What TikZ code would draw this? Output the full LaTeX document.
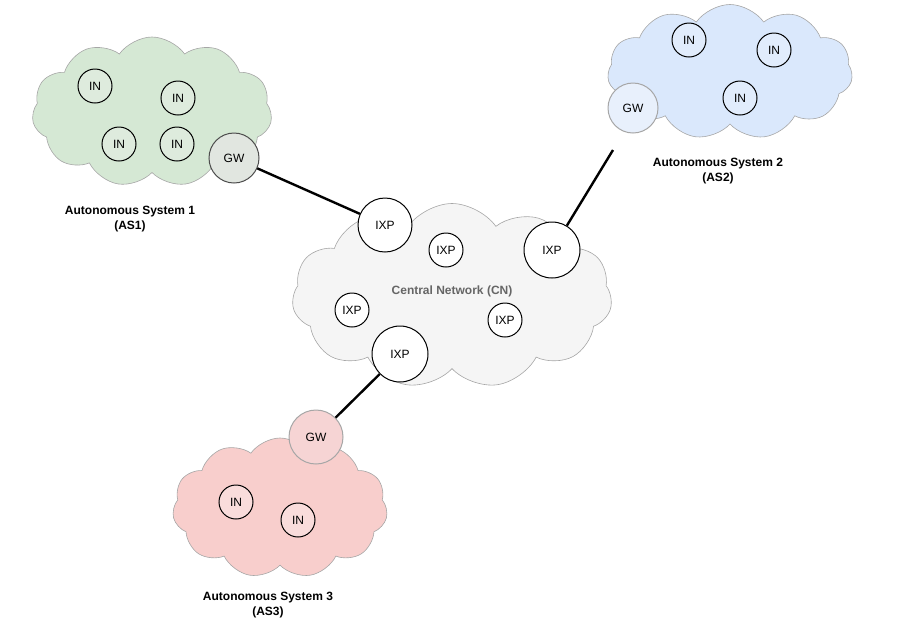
\documentclass[tikz,border=0pt]{standalone}
\usepackage{fontspec}
\setmainfont{Liberation Sans}
\usetikzlibrary{shapes.symbols}
\begin{document}
\begin{tikzpicture}[x=1pt,y=-1pt,
  cl/.style={cloud,cloud puffs=11,cloud puff arc=110,aspect=1.6,draw=gray!70,line width=0.6pt},
  nd/.style={circle,draw=black,line width=1pt,inner sep=0pt,font=\fontsize{12}{13}\selectfont},
  lab/.style={font=\bfseries\fontsize{12}{15}\selectfont,align=center},
  ln/.style={line width=2.4pt}]
\useasboundingbox (0,0) rectangle (900,633);
% clouds
\node[cl,fill={rgb,255:red,213;green,232;blue,212},minimum width=240,minimum height=150] (c1) at (152,112) {};
\node[cl,fill={rgb,255:red,218;green,232;blue,252},minimum width=245,minimum height=135] (c2) at (730,72) {};
\node[cl,fill={rgb,255:red,245;green,245;blue,245},minimum width=320,minimum height=185] (cn) at (452,296) {};
\node[cl,fill={rgb,255:red,248;green,206;blue,204},minimum width=215,minimum height=140] (c3) at (280,508) {};
% AS1
\node[nd,fill={rgb,255:red,222;green,235;blue,221},minimum size=34] (a1) at (95,86) {IN};
\node[nd,fill={rgb,255:red,222;green,235;blue,221},minimum size=34] (a2) at (178,98) {IN};
\node[nd,fill={rgb,255:red,222;green,235;blue,221},minimum size=34] (a3) at (119,144) {IN};
\node[nd,fill={rgb,255:red,222;green,235;blue,221},minimum size=34] (a4) at (177,144) {IN};
\node[nd,draw=gray!60!black,fill={rgb,255:red,225;green,230;blue,224},minimum size=50] (g1) at (234,158) {GW};
\node[lab] (l1) at (130,219) {Autonomous System 1\\(AS1)};
% AS2
\node[nd,fill={rgb,255:red,225;green,236;blue,252},minimum size=34] (b1) at (689,40) {IN};
\node[nd,fill={rgb,255:red,225;green,236;blue,252},minimum size=34] (b2) at (774,50) {IN};
\node[nd,fill={rgb,255:red,225;green,236;blue,252},minimum size=34] (b3) at (740,98) {IN};
\node[nd,draw=gray!70,fill={rgb,255:red,232;green,240;blue,252},minimum size=50] (g2) at (633,108) {GW};
\node[lab] (l2) at (718,171) {Autonomous System 2\\(AS2)};
% CN
\node[nd,fill=white,minimum size=54] (x1) at (385,225) {IXP};
\node[nd,fill=white,minimum size=34] (x2) at (446,250) {IXP};
\node[nd,fill=white,minimum size=56] (x3) at (552,250) {IXP};
\node[nd,fill=white,minimum size=34] (x4) at (352,310) {IXP};
\node[nd,fill=white,minimum size=34] (x5) at (505,320) {IXP};
\node[nd,fill=white,minimum size=56] (x6) at (400,354) {IXP};
\node[lab,text=gray!80!black] (lc) at (452,291) {Central Network (CN)};
% AS3
\node[nd,draw=gray!70,fill={rgb,255:red,246;green,212;blue,212},minimum size=54] (g3) at (316,437) {GW};
\node[nd,fill={rgb,255:red,249;green,220;blue,219},minimum size=34] (r1) at (236,502) {IN};
\node[nd,fill={rgb,255:red,249;green,220;blue,219},minimum size=34] (r2) at (298,520) {IN};
\node[lab] (l3) at (268,605) {Autonomous System 3\\(AS3)};
% links
\draw[ln] (g1) -- (x1);
\coordinate (e2) at (613,150);
\draw[ln] (e2) -- (x3);
\draw[ln] (x6) -- (g3);
\end{tikzpicture}
\end{document}
